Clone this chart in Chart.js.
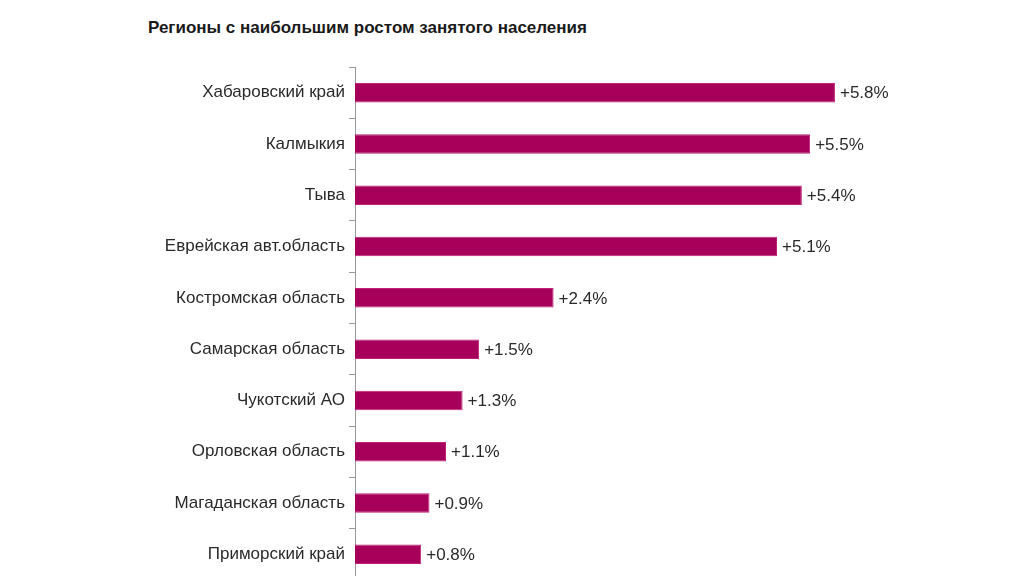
<html lang="ru">
<head>
    <meta charset="UTF-8">
    <title>Регионы</title>
    <script src="https://cdn.jsdelivr.net/npm/chart.js@4/dist/chart.umd.min.js"></script>
    <style>
        body { margin: 0; overflow: hidden; background: #fff; }
        #title { position: absolute; left: 148px; top: 18px; font: bold 17px "Liberation Sans", Arial, sans-serif; color: #1a1a1a; }
        #box { position: absolute; left: 0; top: 0; width: 1024px; height: 600px; }
    </style>
</head>
<body>
    <div id="title">Регионы с наибольшим ростом занятого населения</div>
    <div id="box"><canvas id="graph1"></canvas></div>
    <script>
        const regions = ["Хабаровский край", "Калмыкия", "Тыва", "Еврейская авт.область", "Костромская область",
            "Самарская область", "Чукотский АО", "Орловская область", "Магаданская область", "Приморский край"];
        const growth = [5.8, 5.5, 5.4, 5.1, 2.4, 1.5, 1.3, 1.1, 0.9, 0.8];

        const valueLabels = {
            id: "valueLabels",
            afterDatasetsDraw(chart) {
                const ctx = chart.ctx;
                const meta = chart.getDatasetMeta(0);
                ctx.save();
                ctx.font = "17px 'Liberation Sans', Arial, sans-serif";
                ctx.fillStyle = "#2a2a2a";
                ctx.textBaseline = "middle";
                meta.data.forEach(function (bar, i) {
                    ctx.fillText("+" + growth[i].toFixed(1) + "%", bar.x + 5, bar.y + 1);
                });
                ctx.restore();
            }
        };

        new Chart("graph1", {
            type: "bar",
            data: {
                labels: regions,
                datasets: [{
                    data: growth,
                    backgroundColor: "#a6005a",
                    borderColor: "#c02078",
                    borderWidth: 1,
                    barPercentage: 0.76,
                    categoryPercentage: 0.5
                }]
            },
            options: {
                indexAxis: "y",
                responsive: true,
                maintainAspectRatio: false,
                animation: false,
                layout: { padding: { top: 67, bottom: 20, right: 7, left: 0 } },
                plugins: { legend: { display: false }, tooltip: { enabled: false } },
                scales: {
                    x: { display: false, min: 0, max: 8 },
                    y: {
                        afterFit: function (s) { s.width = 355; },
                        border: { color: "#999", width: 1 },
                        grid: { drawOnChartArea: false, tickLength: 6, color: "#999" },
                        ticks: { color: "#2a2a2a", padding: 4, font: { size: 17, family: "'Liberation Sans', Arial, sans-serif" } }
                    }
                }
            },
            plugins: [valueLabels]
        });
    </script>
</body>
</html>
